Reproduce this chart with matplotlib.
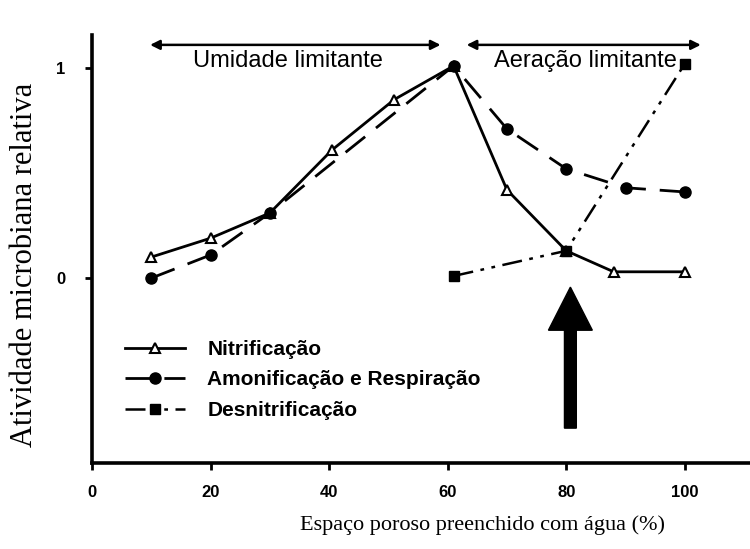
import matplotlib
matplotlib.use("Agg")
import matplotlib.pyplot as plt
from matplotlib.patches import FancyArrow

# Data
nit_x = [10, 20, 30, 40.5, 51, 61, 70, 80, 88, 100]
nit_y = [0.10, 0.19, 0.31, 0.61, 0.85, 1.01, 0.42, 0.13, 0.03, 0.03]

amo_x = [10, 20, 30, 61, 70, 80, 90, 100]
amo_y = [0.0, 0.11, 0.31, 1.01, 0.71, 0.52, 0.43, 0.41]

des_x = [61, 80, 100]
des_y = [0.01, 0.13, 1.02]

labels = ["Nitrificação", "Amonificação e Respiração", "Desnitrificação"]
xticks = [0, 20, 40, 60, 80, 100]
xticklabels = ["0", "20", "40", "60", "80", "100"]
yticks = [0, 1]
yticklabels = ["0", "1"]

W, H = 750, 549
fig = plt.figure(figsize=(W / 100, H / 100), dpi=100)
left, right, bottom, top = 92, 750, 463, 35
ax = fig.add_axes([left / W, 1 - bottom / H, (right - left) / W, (bottom - top) / H])
ax.set_xlim(0, 111)
ax.set_ylim(-0.88, 1.157)

for s in ["top", "right"]:
    ax.spines[s].set_visible(False)
for s in ["left", "bottom"]:
    ax.spines[s].set_linewidth(2.6)
    ax.spines[s].set_color("black")

ax.set_xticks(xticks)
ax.set_xticklabels(xticklabels, fontfamily="Liberation Sans", fontweight="bold", fontsize=12)
ax.set_yticks(yticks)
ax.set_yticklabels(yticklabels, fontfamily="Liberation Sans", fontweight="bold", fontsize=12)
ax.tick_params(axis="x", direction="out", length=5, width=2, pad=11)
ax.tick_params(axis="y", direction="out", length=5, width=2, pad=14)

ln1, = ax.plot(nit_x, nit_y, color="black", lw=2, ls="-", marker="^", ms=7,
               mfc="white", mec="black", mew=1.5)
ln2, = ax.plot(amo_x, amo_y, color="black", lw=2, ls=(0, (9, 5)), marker="o", ms=8,
               mfc="black", mec="black")
ln3, = ax.plot(des_x, des_y, color="black", lw=1.8, ls=(0, (8, 3, 1.5, 3, 1.5, 3)),
               marker="s", ms=7, mfc="black", mec="black")

# Top region arrows and text
ax.annotate("", xy=(9.8, 1.11), xytext=(58.8, 1.11),
            arrowprops=dict(arrowstyle="<|-|>", color="black", lw=1.8,
                            mutation_scale=14, shrinkA=0, shrinkB=0))
ax.annotate("", xy=(63.2, 1.11), xytext=(102.7, 1.11),
            arrowprops=dict(arrowstyle="<|-|>", color="black", lw=1.8,
                            mutation_scale=14, shrinkA=0, shrinkB=0))
ax.text(33.1, 1.035, "Umidade limitante", ha="center", va="center",
        fontfamily="Liberation Sans", fontsize=17)
ax.text(83.3, 1.035, "Aeração limitante", ha="center", va="center",
        fontfamily="Liberation Sans", fontsize=17)

# Big arrow
ax.add_patch(FancyArrow(80.7, -0.714, 0, 0.671, width=2.0, head_width=7.4,
                        head_length=0.205, length_includes_head=True,
                        color="black"))

# Axis labels
fig.text(482 / W, 1 - 525 / H, "Espaço poroso preenchido com água (%)",
         ha="center", va="center", fontfamily="Liberation Serif", fontsize=16)
fig.text(25 / W, 1 - 265 / H, "Atividade microbiana relativa", rotation=90,
         ha="center", va="center", fontfamily="Liberation Serif", fontsize=22)

leg = ax.legend([ln1, ln2, ln3], labels, loc="upper left",
                bbox_to_anchor=(125 / W, 1 - 340 / H), bbox_transform=fig.transFigure,
                frameon=False, borderpad=0, borderaxespad=0,
                handlelength=2.9, handletextpad=1.05, labelspacing=0.55,
                prop=dict(family="Liberation Sans", weight="bold", size=15))

fig.savefig("out.png", dpi=100, facecolor="white")
